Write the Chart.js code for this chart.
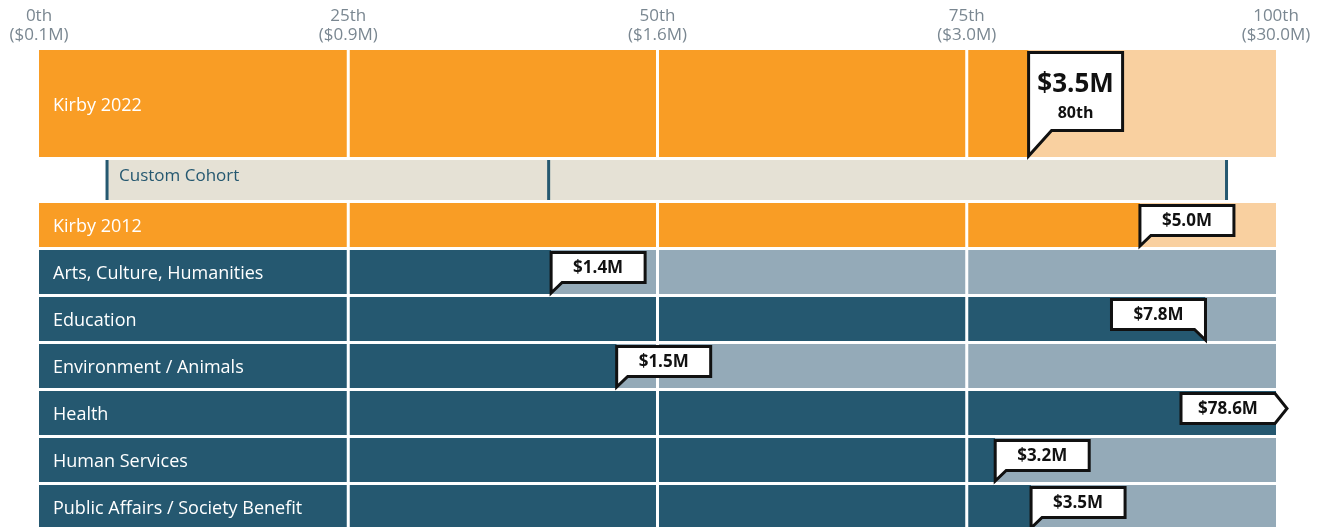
<!DOCTYPE html>
<html>
<head>
<meta charset="utf-8">
<script src="https://cdn.jsdelivr.net/npm/chart.js@4.4.1/dist/chart.umd.min.js"></script>
<style>
  html, body { margin: 0; padding: 0; background: #fff; }
  #wrap { width: 1325px; height: 527px; }
</style>
</head>
<body>
<div id="wrap"><canvas id="chart"></canvas></div>
<script>
// percentile axis
const tickPercentiles = [0, 25, 50, 75, 100];
const tickAmounts = ["$0.1M", "$0.9M", "$1.6M", "$3.0M", "$30.0M"];

// this year
const currentLabel = "Kirby 2022";
const currentPercentile = 80;
const currentAmount = "$3.5M";

// cohort range: low, median, high percentile
const cohortLabel = "Custom Cohort";
const cohortMarks = [5.5, 41.2, 96];

// comparison rows
const compareLabels = ["Kirby 2012", "Arts, Culture, Humanities", "Education", "Environment / Animals",
  "Health", "Human Services", "Public Affairs / Society Benefit"];
const comparePercentiles = [89, 41.4, 94.3, 46.7, 100, 77.3, 80.2];
const compareAmounts = ["$5.0M", "$1.4M", "$7.8M", "$1.5M", "$78.6M", "$3.2M", "$3.5M"];

const ORANGE = "#f99d25";
const ORANGE_LIGHT = "#f9d0a0";
const TEAL = "#255870";
const TEAL_LIGHT = "#94aab8";
const BEIGE = "#e5e1d5";
const FONT = "'Open Sans', 'Noto Sans', sans-serif";

// row layout (pixels along the y scale)
const GAP = 3;
const rowHeights = [107, 40].concat(compareLabels.map(() => 44));
const rowTops = [];
let acc = 0;
rowHeights.forEach(h => { rowTops.push(acc); acc += h + GAP; });
const rowMid = i => rowTops[i] + rowHeights[i] / 2;

Chart.defaults.font.family = FONT;

const overlay = {
  id: "overlay",
  afterDatasetsDraw(chart) {
    const { ctx, scales: { x, y } } = chart;
    const top = i => y.getPixelForValue(rowTops[i]);
    const bot = i => y.getPixelForValue(rowTops[i] + rowHeights[i]);
    ctx.save();

    // white quartile lines on every row but the cohort
    ctx.fillStyle = "#fff";
    rowHeights.forEach((h, i) => {
      if (i === 1) return;
      [25, 50, 75].forEach(p => {
        const px = x.getPixelForValue(p);
        ctx.fillRect(px - 1.5, top(i), 3, bot(i) - top(i));
      });
    });

    // cohort markers
    ctx.fillStyle = TEAL;
    cohortMarks.forEach(p => {
      const px = x.getPixelForValue(p);
      ctx.fillRect(px - 1.5, top(1), 3, bot(1) - top(1));
    });

    // row labels
    ctx.textBaseline = "middle";
    ctx.textAlign = "left";
    ctx.font = "18px " + FONT;
    ctx.fillStyle = "#fff";
    ctx.fillText(currentLabel, x.left + 14, y.getPixelForValue(rowMid(0)) + 2);
    compareLabels.forEach((l, i) => ctx.fillText(l, x.left + 14, y.getPixelForValue(rowMid(i + 2)) + 2));
    ctx.font = "17px " + FONT;
    ctx.fillStyle = TEAL;
    ctx.fillText(cohortLabel, x.getPixelForValue(cohortMarks[0]) + 12, y.getPixelForValue(rowMid(1)) - 4);

    // callouts
    const drawCallout = (p, i, lines, w, h, tail) => {
      const rt = top(i), rb = bot(i);
      const bt = rt + 2.5, bb = bt + h;
      const tipY = rb - 1;
      const tx = x.getPixelForValue(Math.min(p, 100));
      ctx.beginPath();
      let cx;
      if (p >= 100) {
        const R = x.right - 1, L = R - w, mid = (bt + bb) / 2;
        ctx.moveTo(L, bt); ctx.lineTo(R, bt); ctx.lineTo(R + 12, mid);
        ctx.lineTo(R, bb); ctx.lineTo(L, bb);
        cx = (L + R) / 2;
      } else if (tx + w > x.right) {
        ctx.moveTo(tx, bt); ctx.lineTo(tx - w, bt); ctx.lineTo(tx - w, bb);
        ctx.lineTo(tx - tail, bb); ctx.lineTo(tx, tipY);
        cx = tx - w / 2;
      } else {
        ctx.moveTo(tx, bt); ctx.lineTo(tx + w, bt); ctx.lineTo(tx + w, bb);
        ctx.lineTo(tx + tail, bb); ctx.lineTo(tx, tipY);
        cx = tx + w / 2;
      }
      ctx.closePath();
      ctx.fillStyle = "#fff";
      ctx.fill();
      ctx.lineWidth = 3;
      ctx.lineJoin = "miter";
      ctx.strokeStyle = "#111";
      ctx.stroke();
      ctx.fillStyle = "#111";
      ctx.textAlign = "center";
      ctx.textBaseline = "middle";
      lines.forEach(t => {
        ctx.font = t.font;
        ctx.fillText(t.text, cx, bt + t.dy);
      });
    };

    drawCallout(currentPercentile, 0, [
      { text: currentAmount, font: "bold 26px " + FONT, dy: 32 },
      { text: currentPercentile + "th", font: "bold 16px " + FONT, dy: 61 }
    ], 94, 78, 23);
    compareAmounts.forEach((a, i) => {
      drawCallout(comparePercentiles[i], i + 2, [{ text: a, font: "bold 17px " + FONT, dy: 16 }], 94, 30, 11);
    });

    ctx.restore();
  }
};

new Chart(document.getElementById("chart"), {
  type: "bar",
  data: {
    datasets: [
      {
        data: [{ x: [0, currentPercentile], y: rowMid(0) }],
        backgroundColor: ORANGE,
        maxBarThickness: rowHeights[0],
      },
      {
        data: [{ x: [currentPercentile, 100], y: rowMid(0) }],
        backgroundColor: ORANGE_LIGHT,
        maxBarThickness: rowHeights[0],
      },
      {
        data: [{ x: [cohortMarks[0], cohortMarks[2]], y: rowMid(1) }],
        backgroundColor: BEIGE,
        maxBarThickness: rowHeights[1],
      },
      {
        data: comparePercentiles.map((p, i) => ({ x: [0, p], y: rowMid(i + 2) })),
        backgroundColor: ctx => ctx.dataIndex === 0 ? ORANGE : TEAL,
        maxBarThickness: 44,
      },
      {
        data: comparePercentiles.map((p, i) => ({ x: [p, 100], y: rowMid(i + 2) })),
        backgroundColor: ctx => ctx.dataIndex === 0 ? ORANGE_LIGHT : TEAL_LIGHT,
        maxBarThickness: 44,
      },
    ],
  },
  options: {
    indexAxis: "y",
    responsive: true,
    maintainAspectRatio: false,
    animation: false,
    grouped: false,
    barPercentage: 10,
    categoryPercentage: 1,
    borderWidth: 0,
    layout: { padding: { left: 39, right: 49, top: 0, bottom: 0 } },
    plugins: { legend: { display: false }, tooltip: { enabled: false } },
    scales: {
      x: {
        type: "linear",
        position: "top",
        min: 0,
        max: 100,
        afterBuildTicks: s => { s.ticks = tickPercentiles.map(v => ({ value: v })); },
        afterFit: s => { s.height = 50; },
        grid: { display: false, drawTicks: false },
        border: { display: false },
        ticks: {
          autoSkip: false,
          maxRotation: 0,
          padding: 6,
          color: "#7a8791",
          font: { size: 17, lineHeight: 1.08 },
          callback: v => {
            const i = tickPercentiles.indexOf(v);
            return i < 0 ? "" : [v + "th", "(" + tickAmounts[i] + ")"];
          },
        },
      },
      y: {
        type: "linear",
        offset: false,
        min: 0,
        max: 477,
        reverse: true,
        display: false,
      },
    },
  },
  plugins: [overlay],
});
</script>
</body>
</html>
